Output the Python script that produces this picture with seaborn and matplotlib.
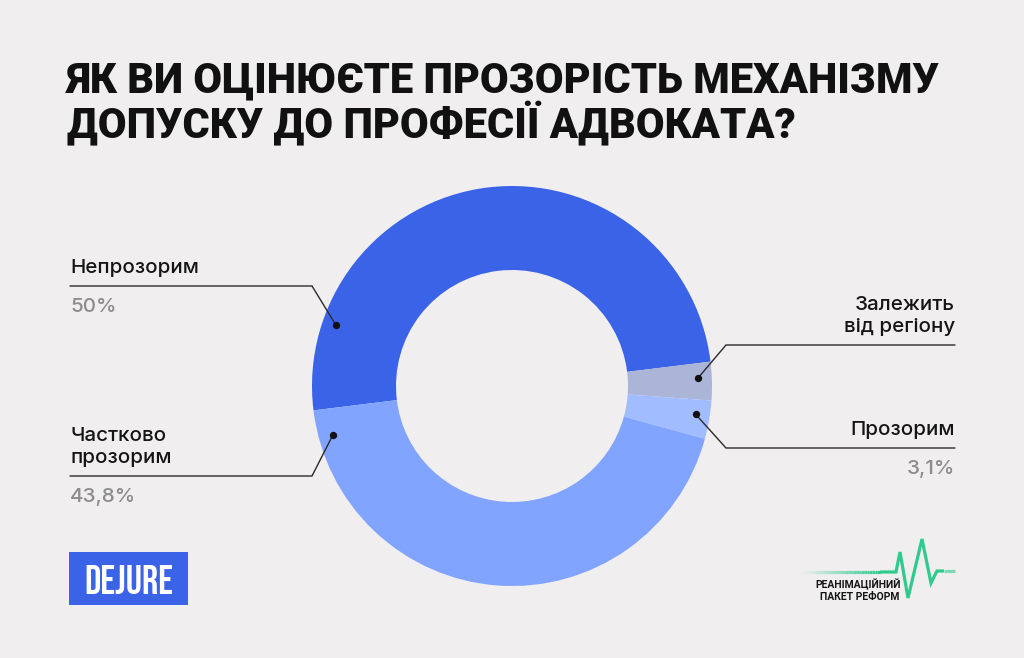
import numpy as np
import matplotlib.pyplot as plt
import seaborn as sns
from matplotlib.patches import Rectangle
from matplotlib.collections import LineCollection

# дані діаграми
labels = ['Непрозорим', 'Залежить\nвід регіону', 'Прозорим', 'Частково\nпрозорим']
values = [50.0, 3.1, 3.1, 43.8]
value_labels = ['50%', '', '3,1%', '43,8%']
title = 'ЯК ВИ ОЦІНЮЄТЕ ПРОЗОРІСТЬ МЕХАНІЗМУ\nДОПУСКУ ДО ПРОФЕСІЇ АДВОКАТА?'

# кольори
bg = '#F0EEEF'
colors = ['#3A63E8', '#AAB5D8', '#A2BDFF', '#80A4FF']
line_c = '#2B2B2B'
grey_txt = '#8C8C8C'
green = '#2FCB8E'

sns.set_theme(style='white', rc={'figure.facecolor': bg, 'axes.facecolor': bg})
plt.rcParams['font.family'] = ['Inter', 'DejaVu Sans']
cond = ['Roboto Condensed', 'Liberation Sans', 'DejaVu Sans']

W, H = 1024, 658
fig = plt.figure(figsize=(W / 100, H / 100), dpi=100)
ax = fig.add_axes([0, 0, 1, 1])

def Y(y):
    # піксельна координата зверху -> координата осі
    return H - y

cx, cy, R = 512, 386, 200
wedges, _ = ax.pie(values, colors=colors, startangle=187, counterclock=False,
                   radius=R, center=(cx, Y(cy)), frame=True,
                   wedgeprops=dict(width=84, linewidth=0))

# виноски
anchor_ang = [161, 2.4, -8.8, 195.4]
elbows = [(312, 286), (726, 345), (726, 448), (312, 476)]
end_x = [70, 955, 955, 70]
dot_r = 186
for i, lab in enumerate(labels):
    a = np.deg2rad(anchor_ang[i])
    dx, dy = cx + dot_r * np.cos(a), Y(cy) + dot_r * np.sin(a)
    ex, ey = elbows[i]
    ax.plot([dx, ex, end_x[i]], [dy, Y(ey), Y(ey)], color=line_c, lw=1.0,
            solid_joinstyle='miter', zorder=3)
    ax.scatter([dx], [dy], s=28, color='#111111', zorder=4, linewidths=0)

    left = end_x[i] < cx
    ha = 'left' if left else 'right'
    lines = lab.split('\n')
    for k, ln in enumerate(lines[::-1]):
        ax.text(end_x[i], Y(ey - 13 - 22 * k), ln, ha=ha, va='baseline',
                fontsize=14.8, color='#151515', fontweight='medium')
    if value_labels[i]:
        ax.text(end_x[i], Y(ey + 26), value_labels[i], ha=ha, va='baseline',
                fontsize=14.8, color=grey_txt, fontweight='medium')

# заголовок
t_lines = title.split('\n')
for k, ln in enumerate(t_lines):
    ax.text(67, Y(92 + 46 * k), ln, ha='left', va='baseline', fontsize=30,
            fontweight=900, color='#111111', family=['Roboto'] + cond)

# логотип DEJURE
ax.add_patch(Rectangle((69, Y(605)), 119, 53, color='#3A63E8', lw=0))
ax.text(128.5, Y(579), 'DEJURE', ha='center', va='center', fontsize=29,
        color='white', family=['Bebas Neue'] + cond)

# логотип РПР
xs = np.linspace(803, 880, 30)
segs = [[(xs[j], Y(572)), (xs[j + 1], Y(572))] for j in range(len(xs) - 1)]
alphas = np.linspace(0.03, 1, len(segs))
lc = LineCollection(segs, colors=[(0.184, 0.796, 0.557, a) for a in alphas],
                    lw=2.3, capstyle='butt')
ax.add_collection(lc)
px = [880, 896, 900, 908, 922, 931, 937, 944]
py = [572, 572, 552, 598, 539, 583, 571, 571]
ax.plot(px, [Y(v) for v in py], color=green, lw=2.3, solid_joinstyle='miter',
        solid_capstyle='butt')
ax.plot([944, 955], [Y(571), Y(571)], color=green, lw=2.3, alpha=0.6,
        solid_capstyle='butt')
ax.text(815, Y(588), 'РЕАНІМАЦІЙНИЙ', ha='left', va='baseline', fontsize=7.5,
        fontweight='bold', color='#151515', family=['Roboto', 'DejaVu Sans'])
ax.text(820, Y(600), 'ПАКЕТ РЕФОРМ', ha='left', va='baseline', fontsize=7.5,
        fontweight='bold', color='#151515', family=['Roboto', 'DejaVu Sans'])

ax.set_xlim(0, W)
ax.set_ylim(0, H)
ax.set_aspect('auto')
ax.axis('off')

fig.savefig('out.png', dpi=100, facecolor=bg)
